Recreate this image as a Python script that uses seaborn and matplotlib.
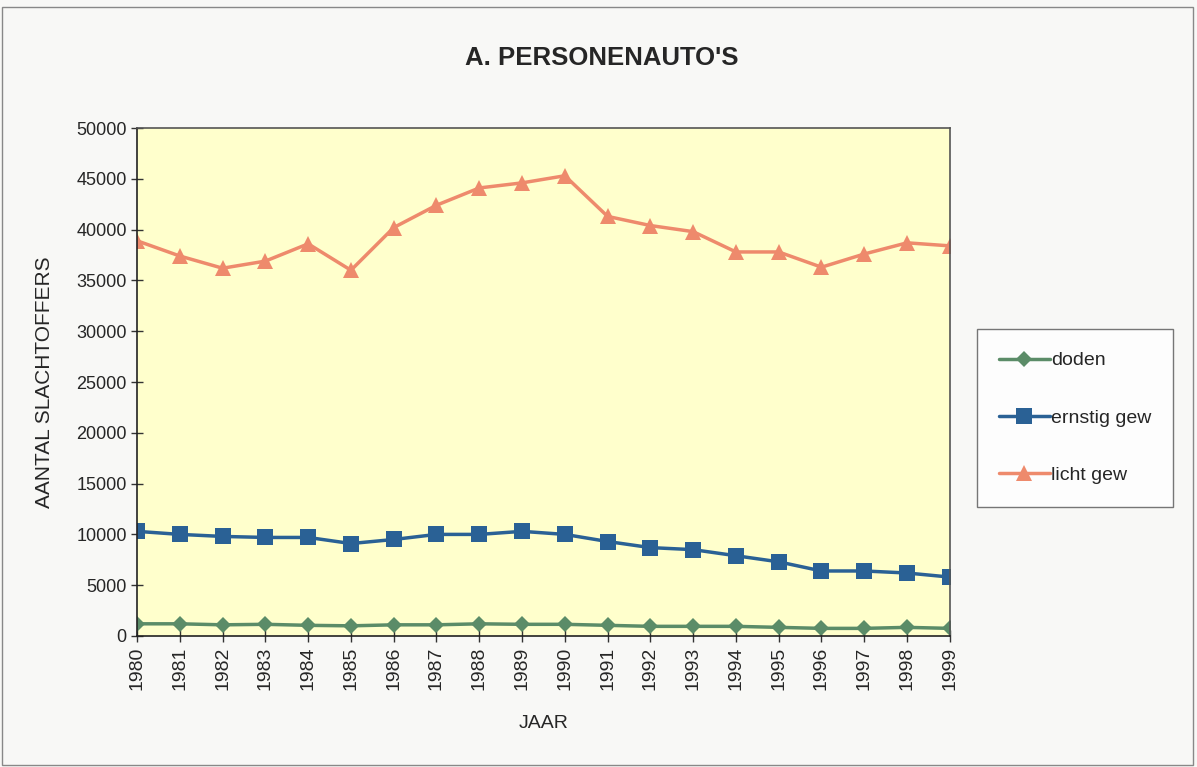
import pandas as pd
import matplotlib
matplotlib.use('Agg')
import matplotlib.pyplot as plt
import seaborn as sns

# waarden
jaren = list(range(1980, 2000))
doden = [1200, 1200, 1100, 1150, 1050, 1000, 1100, 1100, 1200, 1150,
         1150, 1050, 950, 950, 950, 850, 750, 750, 850, 750]
ernstig = [10300, 10000, 9800, 9700, 9700, 9100, 9500, 10000, 10000, 10300,
           10000, 9300, 8700, 8500, 7900, 7300, 6400, 6400, 6200, 5800]
licht = [38900, 37400, 36200, 36900, 38600, 36000, 40200, 42400, 44100, 44600,
         45300, 41300, 40400, 39800, 37800, 37800, 36300, 37600, 38700, 38400]
reeksen = ["doden", "ernstig gew", "licht gew"]

df = pd.DataFrame({"JAAR": jaren, "doden": doden,
                   "ernstig gew": ernstig, "licht gew": licht})
df = df.melt(id_vars="JAAR", var_name="reeks", value_name="aantal")

sns.set_style("white")
plt.rcParams['font.family'] = ['Liberation Sans', 'DejaVu Sans']

kleuren = {"doden": "#5B8C68", "ernstig gew": "#2A6195", "licht gew": "#EE8A6C"}
markers = {"doden": "D", "ernstig gew": "s", "licht gew": "^"}

fig = plt.figure(figsize=(11.97, 7.67), dpi=100, facecolor="#F8F8F6")
ax = fig.add_axes([0.1145, 0.1708, 0.679, 0.6623])
ax.set_facecolor("#FFFFCC")

sns.lineplot(data=df, x="JAAR", y="aantal", hue="reeks", style="reeks",
             hue_order=reeksen, style_order=reeksen, palette=kleuren,
             markers=markers, dashes=False, linewidth=2.5, markersize=11,
             markeredgewidth=0, ax=ax)

# diamant iets kleiner
for line in ax.lines:
    if line.get_marker() == "D":
        line.set_markersize(8.5)

ax.set_xlim(1980, 1999)
ax.set_ylim(0, 50000)
ax.set_xticks(jaren)
ax.set_xticklabels([str(j) for j in jaren], rotation=90)
ax.set_yticks(range(0, 50001, 5000))
ax.tick_params(axis="y", labelsize=13)
ax.tick_params(axis="x", labelsize=14)
ax.tick_params(axis="both", direction="inout", length=8,
               width=1, color="#333333", left=True, bottom=True)
for s in ax.spines.values():
    s.set_color("#555555")
    s.set_linewidth(1.2)
ax.spines["left"].set_color("#222222")
ax.spines["bottom"].set_color("#222222")

ax.set_xlabel("JAAR", fontsize=14, labelpad=18)
ax.set_ylabel("AANTAL SLACHTOFFERS", fontsize=15, labelpad=16)
fig.text(0.503, 0.925, "A. PERSONENAUTO'S", ha="center", va="center",
         fontsize=18.5, fontweight="bold")

h, l = ax.get_legend_handles_labels()
leg = fig.legend(h, l, loc="center left", bbox_to_anchor=(0.816, 0.455),
                 fontsize=14, frameon=True, fancybox=False, edgecolor="#555555",
                 borderpad=1.15, labelspacing=2.05, handlelength=2.6,
                 handletextpad=0.05, borderaxespad=0)
leg.get_frame().set_linewidth(1)
ax.get_legend().remove()

fig.patches.append(plt.Rectangle((0.002, 0.003), 0.995, 0.988,
                                 transform=fig.transFigure, fill=False,
                                 edgecolor="#888888", linewidth=1))

plt.savefig("out.png", dpi=100, facecolor=fig.get_facecolor())
plt.close()
